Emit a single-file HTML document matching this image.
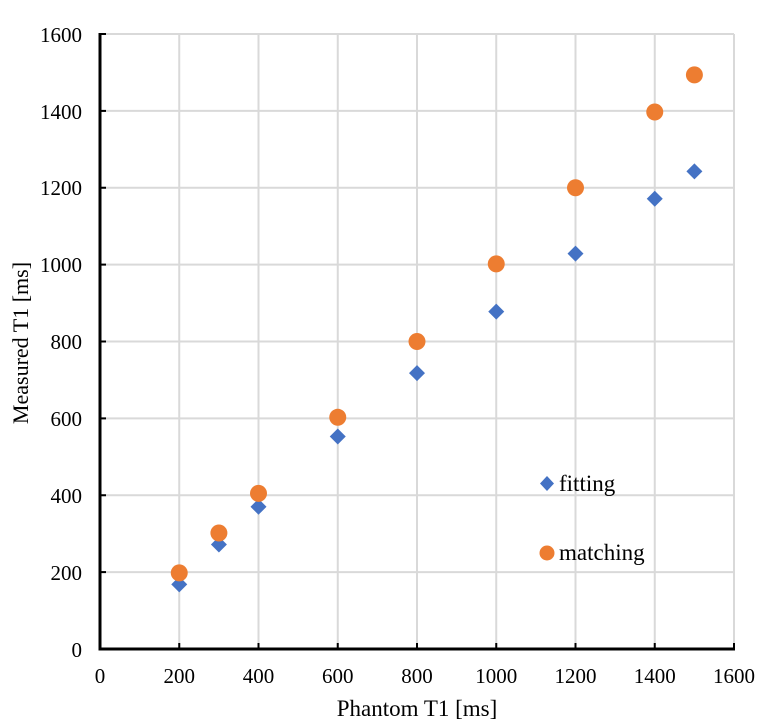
<!DOCTYPE html>
<html><head><style>body{margin:0;background:#fff}svg{display:block}</style></head><body>
<svg width="770" height="723" xmlns="http://www.w3.org/2000/svg" font-family="Liberation Serif, serif" font-size="21">
<rect width="770" height="723" fill="#fff"/>
<g stroke="#d9d9d9" stroke-width="2">
<line x1="179.25" y1="34" x2="179.25" y2="649"/><line x1="258.5" y1="34" x2="258.5" y2="649"/><line x1="337.75" y1="34" x2="337.75" y2="649"/><line x1="417" y1="34" x2="417" y2="649"/><line x1="496.25" y1="34" x2="496.25" y2="649"/><line x1="575.5" y1="34" x2="575.5" y2="649"/><line x1="654.75" y1="34" x2="654.75" y2="649"/><line x1="734" y1="34" x2="734" y2="649"/>
<line x1="100" y1="572.1" x2="734" y2="572.1"/><line x1="100" y1="495.25" x2="734" y2="495.25"/><line x1="100" y1="418.4" x2="734" y2="418.4"/><line x1="100" y1="341.5" x2="734" y2="341.5"/><line x1="100" y1="264.6" x2="734" y2="264.6"/><line x1="100" y1="187.75" x2="734" y2="187.75"/><line x1="100" y1="110.9" x2="734" y2="110.9"/><line x1="100" y1="34" x2="734" y2="34"/>
</g>
<g stroke="#000" stroke-width="3">
<line x1="100" y1="33" x2="100" y2="650.5"/><line x1="98.5" y1="649" x2="735" y2="649"/>
<g stroke-width="2">
<line x1="100" y1="572.1" x2="106" y2="572.1"/><line x1="100" y1="495.25" x2="106" y2="495.25"/><line x1="100" y1="418.4" x2="106" y2="418.4"/><line x1="100" y1="341.5" x2="106" y2="341.5"/><line x1="100" y1="264.6" x2="106" y2="264.6"/><line x1="100" y1="187.75" x2="106" y2="187.75"/><line x1="100" y1="110.9" x2="106" y2="110.9"/><line x1="100" y1="34" x2="106" y2="34"/>
<line x1="179.25" y1="649" x2="179.25" y2="643"/><line x1="258.5" y1="649" x2="258.5" y2="643"/><line x1="337.75" y1="649" x2="337.75" y2="643"/><line x1="417" y1="649" x2="417" y2="643"/><line x1="496.25" y1="649" x2="496.25" y2="643"/><line x1="575.5" y1="649" x2="575.5" y2="643"/><line x1="654.75" y1="649" x2="654.75" y2="643"/><line x1="734" y1="649" x2="734" y2="643"/>
</g></g>
<g text-anchor="end">
<text x="82" y="657">0</text><text x="82" y="580">200</text><text x="82" y="503">400</text><text x="82" y="426">600</text><text x="82" y="349">800</text><text x="82" y="272">1000</text><text x="82" y="195">1200</text><text x="82" y="119">1400</text><text x="82" y="42">1600</text>
</g>
<g text-anchor="middle">
<text x="100" y="683">0</text><text x="179.25" y="683">200</text><text x="258.5" y="683">400</text><text x="337.75" y="683">600</text><text x="417" y="683">800</text><text x="496.25" y="683">1000</text><text x="575.5" y="683">1200</text><text x="654.75" y="683">1400</text><text x="734" y="683">1600</text>
<text x="417" y="716" font-size="23">Phantom T1 [ms]</text>
<text transform="translate(28,343) rotate(-90)" font-size="22">Measured T1 [ms]</text>
</g>
<g fill="#4472c4">
<path d="M179.25 576.4l8 8-8 8-8-8z"/><path d="M218.9 536.5l8 8-8 8-8-8z"/><path d="M258.5 498.8l8 8-8 8-8-8z"/><path d="M337.75 428.5l8 8-8 8-8-8z"/><path d="M417 365.1l8 8-8 8-8-8z"/><path d="M496.25 303.6l8 8-8 8-8-8z"/><path d="M575.5 245.6l8 8-8 8-8-8z"/><path d="M654.75 190.7l8 8-8 8-8-8z"/><path d="M694.4 163.4l8 8-8 8-8-8z"/>
<path d="M547 476l7 7.5-7 7.5-7-7.5z"/>
</g>
<g fill="#ed7d31">
<circle cx="179.25" cy="572.9" r="8.5"/><circle cx="218.9" cy="533" r="8.5"/><circle cx="258.5" cy="493.4" r="8.5"/><circle cx="337.75" cy="417.3" r="8.5"/><circle cx="417" cy="341.5" r="8.5"/><circle cx="496.25" cy="263.9" r="8.5"/><circle cx="575.5" cy="187.75" r="8.5"/><circle cx="654.75" cy="112" r="8.5"/><circle cx="694.4" cy="74.9" r="8.5"/>
<circle cx="547" cy="553" r="7.5"/>
</g>
<g font-size="23">
<text x="559" y="491">fitting</text>
<text x="559" y="560">matching</text>
</g>
</svg>
</body></html>
